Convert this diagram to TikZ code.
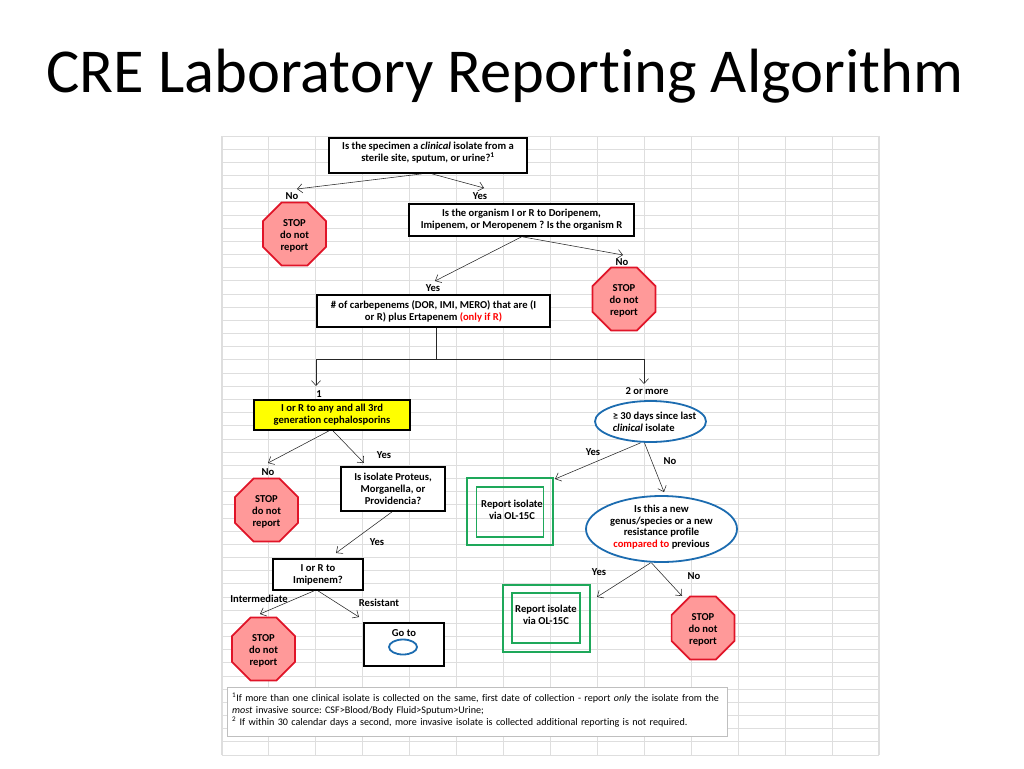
\documentclass[tikz,border=0pt]{standalone}
\usepackage{fontspec}
\setmainfont[Ligatures=NoCommon]{Carlito}
\usetikzlibrary{arrows.meta,shapes.geometric}
\definecolor{gridgrey}{RGB}{222,222,222}
\definecolor{stopfill}{RGB}{255,153,153}
\definecolor{stopline}{RGB}{224,20,40}
\definecolor{reportgreen}{RGB}{30,168,90}
\definecolor{ovalblue}{RGB}{28,108,176}
\definecolor{boxyellow}{RGB}{255,255,0}
\newcommand{\onlyred}[1]{\textcolor{red}{#1}}
\frenchspacing

\begin{document}
\begin{tikzpicture}[x=1pt,y=-1pt,
  box/.style={draw=black,line width=1.7pt,fill=white,align=center,font=\fontsize{10.6}{11.9}\selectfont\bfseries,inner sep=0pt},
  hit/.style={box,fill=boxyellow},
  stopsign/.style={regular polygon,regular polygon sides=8,minimum size=68pt,draw=stopline,line width=1.7pt,fill=stopfill,align=center,font=\fontsize{10.6}{11.9}\selectfont\bfseries,inner sep=0pt,text height=34.7pt},
  oval/.style={ellipse,draw=ovalblue,line width=1.8pt,fill=white,align=center,font=\fontsize{10.6}{11.9}\selectfont\bfseries,inner sep=0pt},
  report/.style={draw=reportgreen,line width=1.8pt,inner sep=0pt},
  txt/.style={align=center,font=\fontsize{10.6}{11.9}\selectfont\bfseries,inner sep=0pt},
  note/.style={draw=black!25,fill=white,align=left,font=\fontsize{10.1}{12}\selectfont,inner sep=0pt},
  arr/.style={-{Straight Barb[length=5pt,width=9pt]},line width=0.55pt,black!85},
  wire/.style={line width=0.55pt,black!85}]
  \useasboundingbox (0,0) rectangle (1024,768);
  % spreadsheet grid behind the chart
  \foreach \gx in {0,...,14} \draw[gridgrey,line width=1.1pt] ({222+46.93*\gx},136) -- ({222+46.93*\gx},755);
  \foreach \gy in {0,...,47} \draw[gridgrey,line width=0.8pt] (222,{136+13.17*\gy}) -- (879,{136+13.17*\gy});
  \node[anchor=base west,inner sep=0pt,font=\fontsize{62.5}{68}\selectfont] (title) at (46,92) {CRE Laboratory Reporting Algorithm};
  % boxes
  \node[box,minimum width=198pt,minimum height=35pt,text depth=7pt] (Q1) at (428,155.5) {Is the specimen a \textit{clinical} isolate from a\\ sterile site, sputum, or urine?\smash{\textsuperscript{1}}};
  \node[box,minimum width=225pt,minimum height=32pt] (Q2) at (521.5,220) {Is the organism I or R to Doripenem,\\ Imipenem, or Meropenem ? Is the organism R};
  \node[box,minimum width=233pt,minimum height=32pt] (Q3) at (433.5,311) {\# of carbepenems (DOR, IMI, MERO) that are (I\\ or R) plus Ertapenem \onlyred{(only if R)}};
  \node[hit,minimum width=156pt,minimum height=30pt] (Yel) at (332,415) {I or R to any and all 3rd\\ generation cephalosporins};
  \node[box,minimum width=104pt,minimum height=44pt] (Prot) at (393,489) {Is isolate Proteus,\\ Morganella, or\\ Providencia?};
  \node[box,minimum width=90pt,minimum height=31pt] (Imi) at (318,574.5) {I or R to\\ Imipenem?};
  \node[box,minimum width=80pt,minimum height=43pt] (Goto) at (404,644.5) {};
  \node[txt] (GotoTxt) at (404,633) {Go to};
  \node[oval,minimum width=28pt,minimum height=15pt] (GotoOval) at (403,647) {};
  % stop signs
  \node[stopsign] (StopA) at (294.5,234) {STOP\\ do not\\ report};
  \node[stopsign] (StopB) at (624,299) {STOP\\ do not\\ report};
  \node[stopsign] (StopC) at (266.5,510) {STOP\\ do not\\ report};
  \node[stopsign] (StopD) at (263.5,649) {STOP\\ do not\\ report};
  \node[stopsign] (StopE) at (703,628) {STOP\\ do not\\ report};
  % ovals
  \node[oval,minimum width=111pt,minimum height=41pt,inner xsep=-10pt,inner ysep=-2pt,align=left] (Days) at (650.5,421.5) {\hspace*{8pt}≥ 30 days since last\\ \hspace*{8pt}\textit{clinical} isolate};
  \node[oval,minimum width=151pt,minimum height=66pt,inner sep=-2pt,text depth=5.5pt] (Newg) at (661.5,529) {Is this a new\\ genus/species or a new\\ resistance profile\\ \onlyred{compared to} previous};
  % report boxes
  \node[report,minimum width=86pt,minimum height=67pt] (RepA) at (510,511.5) {};
  \node[report,minimum width=67pt,minimum height=50pt] (RepAin) at (510,512) {};
  \node[txt] (RepAtxt) at (512,510) {Report isolate\\ via OL-15C};
  \node[report,minimum width=87pt,minimum height=67pt] (RepB) at (546.5,618.5) {};
  \node[report,minimum width=68pt,minimum height=50pt] (RepBin) at (546,618) {};
  \node[txt] (RepBtxt) at (546,615) {Report isolate\\ via OL-15C};
  % footnote
  \node[note,minimum width=500pt,minimum height=49pt,anchor=north west,text width=490pt,text depth=29.5pt] (Foot) at (227,687) {\textsuperscript{1}If more than one clinical isolate is collected on the same, first date of collection - report \textit{only} the isolate from the\\ \textit{most} invasive source: CSF>Blood/Body Fluid>Sputum>Urine;\\ \textsuperscript{2} If within 30 calendar days a second, more invasive isolate is collected additional reporting is not required.};
  % labels
  \node[txt] (LnoA) at (292,196) {No};
  \node[txt] (LyesA) at (480,196) {Yes};
  \node[txt] (LnoB) at (622,262) {No};
  \node[txt] (LyesB) at (433,288) {Yes};
  \node[txt] (Lone) at (319,394) {1};
  \node[txt] (Ltwo) at (647,391) {2 or more};
  \node[txt] (LnoC) at (268,472) {No};
  \node[txt] (LyesC) at (384,455) {Yes};
  \node[txt] (LyesD) at (377,542) {Yes};
  \node[txt] (Lint) at (259,599) {Intermediate};
  \node[txt] (Lres) at (379,603) {Resistant};
  \node[txt] (LyesE) at (593,452) {Yes};
  \node[txt] (LnoE) at (670,461) {No};
  \node[txt] (LyesF) at (599,572) {Yes};
  \node[txt] (LnoF) at (694,576) {No};
  % free ends of the connectors
  \coordinate (tipA) at (297,189);
  \coordinate (tipB) at (484,188);
  \coordinate (tipC) at (435,281);
  \coordinate (tipD) at (623,255);
  \coordinate (bend) at (436,359);
  \coordinate (bendL) at (316,359);
  \coordinate (bendR) at (644,359);
  \coordinate (tipE) at (316,386);
  \coordinate (tipF) at (644,384);
  \coordinate (tipG) at (268,463);
  \coordinate (tipH) at (364,463);
  \coordinate (tipI) at (336,553);
  \coordinate (tipJ) at (260,614);
  \coordinate (tipK) at (359,617);
  \coordinate (tipL) at (555,479);
  \coordinate (tipM) at (664,492);
  \coordinate (tipN) at (597,597);
  \coordinate (tipO) at (682,596);
  % connectors
  \draw[arr] ([xshift=-6pt]Q1.south) -- (tipA); \draw[arr] ([xshift=4pt]Q1.south) -- (tipB);
  \draw[arr] (Q2.south) -- (tipC); \draw[arr] ([xshift=1pt]Q2.south) -- (tipD);
  \draw[wire] ([xshift=2.5pt]Q3.south) -- (bend);
  \draw[wire] (bendL) -- (bendR);
  \draw[arr] (bendL) -- (tipE); \draw[arr] (bendR) -- (tipF);
  \draw[arr] ([xshift=-3pt]Yel.south) -- (tipG); \draw[arr] ([xshift=1pt]Yel.south) -- (tipH);
  \draw[arr] ([xshift=-1pt]Prot.south) -- (tipI);
  \draw[arr] ([xshift=-4pt]Imi.south) -- (tipJ); \draw[arr] (Imi.south) -- (tipK);
  \draw[arr] ([xshift=-10pt]Days.south) -- (tipL); \draw[arr] ([xshift=-6pt]Days.south) -- (tipM);
  \draw[arr] ([xshift=-11pt]Newg.south) -- (tipN); \draw[arr] ([xshift=-10pt]Newg.south) -- (tipO);
\end{tikzpicture}
\end{document}
